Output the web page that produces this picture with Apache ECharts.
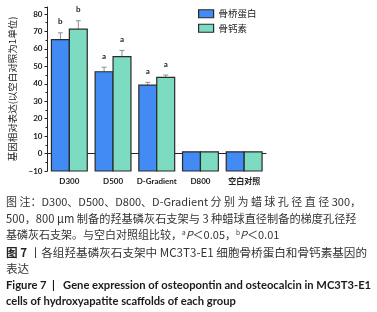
<!DOCTYPE html>
<html>
<head>
<meta charset="utf-8">
<script src="https://cdn.jsdelivr.net/npm/echarts@6.0.0/dist/echarts.min.js"></script>
<style>
  html, body { margin: 0; padding: 0; background: #fff; }
  #chart { width: 377px; height: 312px; }
</style>
</head>
<body>
<div id="chart"></div>
<script>
// ============================================================
// 数据
// ============================================================
var CATEGORIES = ['D300', 'D500', 'D-Gradient', 'D800', '空白对照'];
var SERIES_NAMES = ['骨桥蛋白', '骨钙素'];

var OPN_VALUES = [65.3, 46.9, 39.2, 1.0, 1.0];
var OPN_SD = [3.9, 2.6, 1.6, 0, 0];
var OPN_SIG = ['b', 'a', 'a', '', ''];

var OCN_VALUES = [71.3, 55.6, 43.7, 1.0, 1.0];
var OCN_SD = [4.8, 3.5, 1.3, 0, 0];
var OCN_SIG = ['b', 'a', 'a', '', ''];

var Y_MIN = -10;
var Y_MAX = 84;
var Y_INTERVAL = 10;
var Y_NAME = '基因相对表达(以空白对照为1单位)';

var CAPTION_LINES = [
  '图 注：D300、D500、D800、D-Gradient 分 别 为 蜡 球 孔 径 直 径 300，',
  '500，800 μm 制备的羟基磷灰石支架与 3 种蜡球直径制备的梯度孔径羟',
  '基磷灰石支架。与空白对照组比较，{sup|a}{it|P}＜0.05，{sup|b}{it|P}＜0.01',
  '{b|图 7} 丨各组羟基磷灰石支架中 MC3T3-E1 细胞骨桥蛋白和骨钙素基因的',
  '表达',
  'Figure 7  |   Gene expression of osteopontin and osteocalcin in MC3T3-E1',
  'cells of hydroxyapatite scaffolds of each group'
];

// ============================================================
// 样式
// ============================================================
var COLORS = ['#428AF4', '#7CDBC0'];
var BORDER_COLOR = '#2a2a2a';
var ERR_COLOR = '#8f8f8f';
var BAR_RATIO = 0.41;
var CN_FONT = '"Noto Sans CJK SC", "Noto Sans", sans-serif';
var AXIS_FONT = 'Lato, "Noto Sans CJK SC", sans-serif';

// ============================================================
// 柱子 + 误差线 + 显著性标记
// ============================================================
function makeBarRenderer(side, sdList, sigList, color) {
  return function(params, api) {
    var idx = api.value(0);
    var val = api.value(1);
    var sd = sdList[params.dataIndex];
    var sig = sigList[params.dataIndex];
    var top = api.coord([idx, val]);
    var base = api.coord([idx, Y_MIN]);
    var errTop = api.coord([idx, val + sd]);
    var band = api.size([1, 0])[0];
    var w = band * BAR_RATIO;
    var x0 = side < 0 ? top[0] - w : top[0];
    var cx = x0 + w / 2;

    var children = [];
    if (sd > 0) {
      children.push({
        type: 'line',
        shape: { x1: cx, y1: top[1], x2: cx, y2: errTop[1] },
        style: { stroke: ERR_COLOR, lineWidth: 1 }
      });
      children.push({
        type: 'line',
        shape: { x1: cx - 2.5, y1: errTop[1], x2: cx + 2.5, y2: errTop[1] },
        style: { stroke: ERR_COLOR, lineWidth: 1 }
      });
    }
    children.push({
      type: 'rect',
      shape: { x: x0, y: top[1], width: w, height: base[1] - top[1] },
      style: { fill: color, stroke: BORDER_COLOR, lineWidth: 1.2 }
    });
    if (sig) {
      children.push({
        type: 'text',
        x: cx,
        y: errTop[1] - 11,
        style: {
          text: sig, fill: '#222', fontSize: 8, fontWeight: 'bold',
          fontFamily: AXIS_FONT, align: 'center', verticalAlign: 'middle'
        }
      });
    }
    return { type: 'group', children: children };
  };
}

function toData(values) {
  return values.map(function(v, i) { return [i, v]; });
}

// ============================================================
// 图注
// ============================================================
var CAPTION_Y = [202, 218.5, 235, 253, 269, 285, 301];
var CAPTION_SIZE = [11, 11.2, 11, 11.6, 11.6, 11.2, 11.2];

function buildCaption() {
  return CAPTION_LINES.map(function(line, i) {
    var isEn = i >= 5;
    var size = CAPTION_SIZE[i];
    return {
      type: 'text',
      x: 6,
      y: CAPTION_Y[i],
      style: {
        text: line,
        fill: isEn ? '#1a1a1a' : '#333',
        fontSize: size,
        fontWeight: isEn ? 'bold' : 'normal',
        fontFamily: isEn ? 'Lato, sans-serif' : CN_FONT,
        verticalAlign: 'middle',
        rich: {
          sup: { fontSize: 6.5, verticalAlign: 'top', fontFamily: CN_FONT, fill: '#333' },
          it: { fontSize: size, fontStyle: 'italic', fontFamily: CN_FONT, fill: '#333' },
          b: { fontSize: size, fontWeight: 'bold', fontFamily: CN_FONT, fill: '#222' }
        }
      }
    };
  });
}

// ============================================================
// 图表
// ============================================================
var chart = echarts.init(document.getElementById('chart'), null, { renderer: 'canvas' });

chart.setOption({
  backgroundColor: '#fff',
  animation: false,
  grid: { left: 37, right: 111, top: 7, bottom: 141 },
  legend: {
    orient: 'vertical',
    left: 193,
    top: 4,
    itemWidth: 15,
    itemHeight: 8,
    itemGap: 5,
    icon: 'rect',
    itemStyle: { borderColor: BORDER_COLOR, borderWidth: 1.2 },
    textStyle: { fontSize: 9.5, color: '#222', fontFamily: CN_FONT },
    data: SERIES_NAMES
  },
  xAxis: [{
    type: 'category',
    data: CATEGORIES,
    position: 'bottom',
    axisLine: { lineStyle: { color: '#222', width: 1 } },
    axisTick: { length: 2, lineStyle: { color: '#222' } },
    axisLabel: {
      fontSize: 8, color: '#222', fontWeight: 'bold', fontFamily: AXIS_FONT,
      margin: 6, interval: 0
    }
  }, {
    type: 'category',
    data: CATEGORIES,
    position: 'bottom',
    axisLine: { show: false },
    axisTick: { alignWithLabel: true, length: 4, lineStyle: { color: '#222' } },
    axisLabel: { show: false }
  }],
  yAxis: {
    type: 'value',
    min: Y_MIN,
    max: Y_MAX,
    interval: Y_INTERVAL,
    name: Y_NAME,
    nameLocation: 'middle',
    nameGap: 30,
    nameTextStyle: { fontSize: 9.5, color: '#222', fontFamily: CN_FONT },
    axisLine: { show: true, lineStyle: { color: '#222', width: 1 } },
    axisTick: { show: true, length: 3, lineStyle: { color: '#222' } },
    minorTick: { show: true, splitNumber: 2, length: 2, lineStyle: { color: '#222' } },
    splitLine: { show: false },
    axisLabel: {
      fontSize: 8, color: '#222', fontWeight: 'bold', fontFamily: AXIS_FONT,
      margin: 5, showMaxLabel: false,
      formatter: function(v) { return String(v).replace('-', '\u2212'); }
    }
  },
  series: [{
    name: SERIES_NAMES[0],
    type: 'custom',
    xAxisIndex: 0,
    itemStyle: { color: COLORS[0] },
    renderItem: makeBarRenderer(-1, OPN_SD, OPN_SIG, COLORS[0]),
    data: toData(OPN_VALUES)
  }, {
    name: SERIES_NAMES[1],
    type: 'custom',
    xAxisIndex: 0,
    itemStyle: { color: COLORS[1] },
    renderItem: makeBarRenderer(1, OCN_SD, OCN_SIG, COLORS[1]),
    data: toData(OCN_VALUES)
  }],
  graphic: buildCaption()
});
</script>
</body>
</html>
